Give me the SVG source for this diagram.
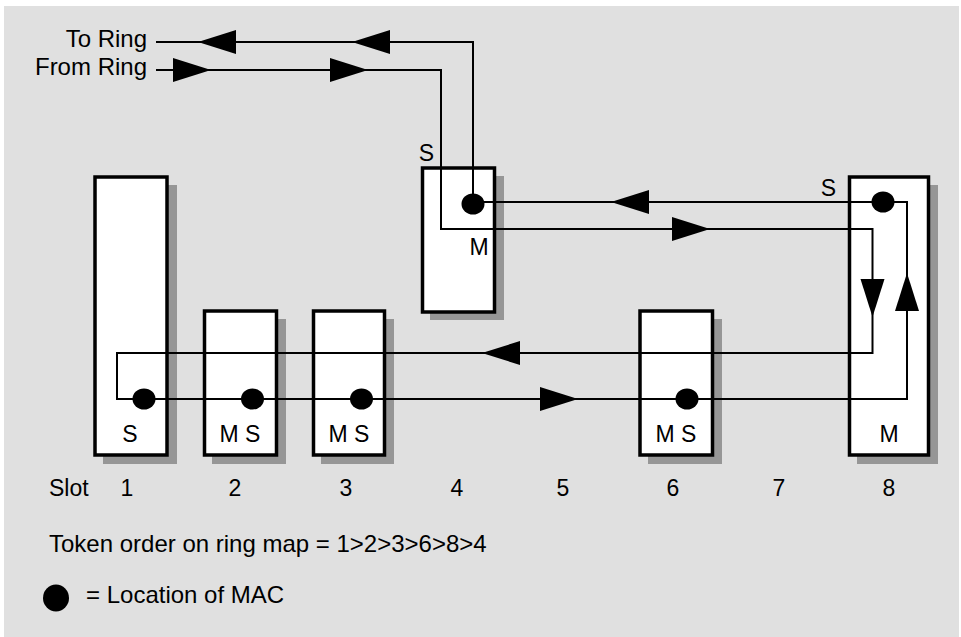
<svg xmlns="http://www.w3.org/2000/svg" width="961" height="637" viewBox="0 0 961 637">
<style>
.bg{fill:#e0e0e0}
.box{fill:#ffffff;stroke:#000;stroke-width:3.5}
.sh{fill:#969696}
.ln{fill:none;stroke:#000;stroke-width:2}
.dot{fill:#000}
text{font-family:"Liberation Sans",Arial,sans-serif;font-size:23px;fill:#000}
.big{font-size:24px}
</style>
<defs>
<path id="ah" d="M0,0 L-38,-12 L-38,12 Z" fill="#000"/>
</defs>
<rect class="bg" x="4" y="6" width="955" height="631"/>
<g id="slot1">
<rect class="sh" x="103" y="185" width="74" height="279"/>
<rect class="box" x="95" y="177" width="72" height="278"/>
<text x="130" y="442" text-anchor="middle">S</text>
</g>
<g id="slot2">
<rect class="sh" x="212" y="319" width="74" height="145"/>
<rect class="box" x="204.5" y="311" width="72" height="144"/>
<text x="240" y="442" text-anchor="middle">M S</text>
</g>
<g id="slot3">
<rect class="sh" x="321" y="319" width="73" height="145"/>
<rect class="box" x="313.5" y="311" width="71" height="144"/>
<text x="349" y="442" text-anchor="middle">M S</text>
</g>
<g id="slot4">
<rect class="sh" x="430" y="176" width="74" height="144"/>
<rect class="box" x="422.5" y="168" width="72" height="144"/>
<text x="434" y="161" text-anchor="end">S</text>
<text x="479" y="255" text-anchor="middle">M</text>
</g>
<g id="slot6">
<rect class="sh" x="648" y="319" width="74" height="145"/>
<rect class="box" x="640" y="311" width="72.5" height="144"/>
<text x="676" y="442" text-anchor="middle">M S</text>
</g>
<g id="slot8">
<rect class="sh" x="857" y="185" width="81" height="279"/>
<rect class="box" x="849.5" y="177" width="79" height="278"/>
<text x="836" y="196" text-anchor="end">S</text>
<text x="889" y="442" text-anchor="middle">M</text>
</g>
<g id="connectors">
<path class="ln" d="M156,42 H473 V203"/>
<path class="ln" d="M156,70 H441 V229 H872.5 V353 H117 V399 H907 V202 H883"/>
<path class="ln" d="M883,202 H473"/>
<use href="#ah" transform="translate(198,42) rotate(180)"/>
<use href="#ah" transform="translate(352,42) rotate(180)"/>
<use href="#ah" transform="translate(211,70)"/>
<use href="#ah" transform="translate(368,70)"/>
<use href="#ah" transform="translate(611,202) rotate(180)"/>
<use href="#ah" transform="translate(710,229)"/>
<use href="#ah" transform="translate(872.5,317) rotate(90)"/>
<use href="#ah" transform="translate(907,273) rotate(-90)"/>
<use href="#ah" transform="translate(482,353) rotate(180)"/>
<use href="#ah" transform="translate(578,399)"/>
</g>
<g id="macs">
<ellipse class="dot" cx="473" cy="204" rx="11.5" ry="10.5"/>
<ellipse class="dot" cx="883" cy="202" rx="11.5" ry="10.5"/>
<ellipse class="dot" cx="144" cy="399" rx="11.5" ry="10.5"/>
<ellipse class="dot" cx="252.5" cy="399" rx="11.5" ry="10.5"/>
<ellipse class="dot" cx="361.5" cy="399" rx="11.5" ry="10.5"/>
<ellipse class="dot" cx="687" cy="399" rx="11.5" ry="10.5"/>
</g>
<g id="labels">
<text class="big" x="147" y="47" text-anchor="end">To Ring</text>
<text class="big" x="147" y="75" text-anchor="end">From Ring</text>
<text x="49" y="496">Slot</text>
<text x="127" y="496" text-anchor="middle">1</text>
<text x="235" y="496" text-anchor="middle">2</text>
<text x="346" y="496" text-anchor="middle">3</text>
<text x="457" y="496" text-anchor="middle">4</text>
<text x="563" y="496" text-anchor="middle">5</text>
<text x="673" y="496" text-anchor="middle">6</text>
<text x="779" y="496" text-anchor="middle">7</text>
<text x="889" y="496" text-anchor="middle">8</text>
<text class="big" x="49" y="552">Token order on ring map = 1&gt;2&gt;3&gt;6&gt;8&gt;4</text>
<ellipse class="dot" cx="56" cy="598" rx="13" ry="13.5"/>
<text class="big" x="86" y="603">= Location of MAC</text>
</g>
</svg>
